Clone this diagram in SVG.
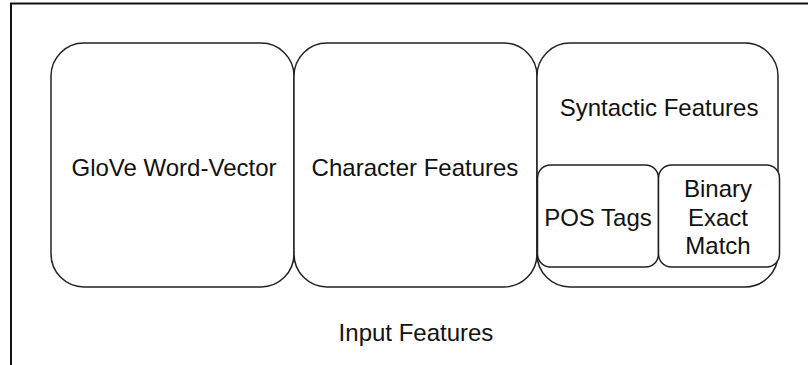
<svg xmlns="http://www.w3.org/2000/svg" width="808" height="365" viewBox="0 0 808 365">
<style>
.box{fill:#fff;stroke:#222;stroke-width:1.5}
.t{font-family:"Liberation Sans",Arial,sans-serif;font-size:24px;fill:#111;text-anchor:middle}
.frame{fill:none;stroke:#111;stroke-width:2}
</style>
<rect width="808" height="365" fill="#fff"/>
<path class="frame" d="M11,365 V3.5 H808"/>
<g id="input-features">
<text class="t" x="416" y="341">Input Features</text>
</g>
<g id="glove">
<rect class="box" x="51" y="43" width="243" height="244" rx="33" ry="33"/>
<text class="t" x="174" y="176">GloVe Word-Vector</text>
</g>
<g id="character">
<rect class="box" x="294" y="43" width="243" height="244" rx="33" ry="33"/>
<text class="t" x="415" y="176">Character Features</text>
</g>
<g id="syntactic">
<rect class="box" x="537" y="43" width="241" height="244" rx="33" ry="33"/>
<text class="t" x="659" y="116">Syntactic Features</text>
</g>
<g id="pos">
<rect class="box" x="537.5" y="165" width="121" height="102" rx="13" ry="13"/>
<text class="t" x="598" y="226">POS Tags</text>
</g>
<g id="binary">
<rect class="box" x="658.5" y="165" width="121" height="102" rx="13" ry="13"/>
<text class="t" x="718" y="197">Binary</text>
<text class="t" x="718" y="226">Exact</text>
<text class="t" x="718" y="254">Match</text>
</g>
<g id="connectors"/>
</svg>
